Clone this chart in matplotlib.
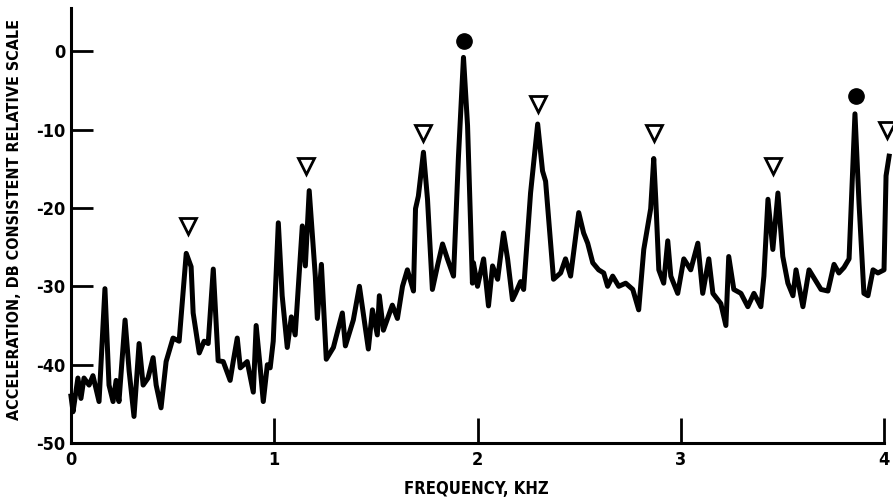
import numpy as np
import matplotlib.pyplot as plt

# spectrum trace (frequency in kHz, level in dB)
freq_khz = [0.000, 0.010, 0.034, 0.049, 0.064, 0.089, 0.108, 0.138, 0.167, 0.187,
            0.207, 0.222, 0.236, 0.266, 0.286, 0.310, 0.335, 0.355, 0.379, 0.404,
            0.419, 0.443, 0.468, 0.502, 0.532, 0.567, 0.591, 0.601, 0.631, 0.655,
            0.675, 0.700, 0.724, 0.749, 0.783, 0.798, 0.818, 0.833, 0.867, 0.897,
            0.911, 0.931, 0.946, 0.966, 0.980, 0.995, 1.020, 1.039, 1.064, 1.084,
            1.103, 1.138, 1.153, 1.172, 1.202, 1.212, 1.232, 1.256, 1.291, 1.335,
            1.350, 1.389, 1.419, 1.463, 1.483, 1.507, 1.517, 1.537, 1.581, 1.606,
            1.631, 1.655, 1.685, 1.695, 1.709, 1.734, 1.754, 1.778, 1.803, 1.828,
            1.852, 1.882, 1.906, 1.931, 1.951, 1.975, 1.980, 2.000, 2.030, 2.054,
            2.074, 2.099, 2.128, 2.148, 2.172, 2.187, 2.212, 2.227, 2.261, 2.296,
            2.320, 2.335, 2.374, 2.409, 2.433, 2.458, 2.498, 2.522, 2.542, 2.567,
            2.596, 2.621, 2.640, 2.665, 2.695, 2.729, 2.764, 2.793, 2.818, 2.852,
            2.867, 2.877, 2.892, 2.916, 2.936, 2.951, 2.985, 3.015, 3.049, 3.084,
            3.108, 3.138, 3.158, 3.197, 3.222, 3.236, 3.261, 3.296, 3.330, 3.360,
            3.394, 3.409, 3.429, 3.453, 3.478, 3.502, 3.527, 3.552, 3.567, 3.601,
            3.631, 3.690, 3.724, 3.754, 3.778, 3.803, 3.828, 3.857, 3.877, 3.901,
            3.921, 3.946, 3.970, 4.000, 4.010, 4.025]
level_db = [-44.0, -46.0, -41.7, -44.3, -41.7, -42.6, -41.4, -44.7, -30.3, -42.6,
            -44.7, -42.0, -44.7, -34.3, -40.8, -46.6, -37.3, -42.6, -41.7, -39.1,
            -42.6, -45.5, -39.6, -36.6, -37.0, -25.8, -27.5, -33.4, -38.5, -37.0,
            -37.3, -27.8, -39.5, -39.6, -42.0, -39.6, -36.6, -40.4, -39.6, -43.5,
            -35.0, -40.4, -44.7, -40.0, -40.4, -37.0, -21.9, -31.2, -37.8, -33.9,
            -36.2, -22.3, -27.4, -17.8, -28.7, -34.1, -27.2, -39.3, -37.8, -33.4,
            -37.6, -34.3, -30.0, -38.0, -33.0, -36.2, -31.2, -35.6, -32.4, -34.1,
            -30.0, -27.9, -30.6, -20.1, -18.5, -12.9, -18.9, -30.4, -27.4, -24.6,
            -26.5, -28.7, -13.6, -0.8, -9.5, -29.6, -27.0, -30.0, -26.5, -32.5,
            -27.4, -29.1, -23.2, -26.5, -31.7, -30.9, -29.4, -30.4, -18.1, -9.3,
            -15.3, -16.6, -29.1, -28.3, -26.5, -28.7, -20.6, -23.2, -24.5, -27.0,
            -27.9, -28.3, -30.0, -28.7, -30.0, -29.6, -30.4, -33.0, -25.3, -20.1,
            -13.7, -18.9, -27.9, -29.6, -24.2, -28.7, -30.9, -26.5, -27.9, -24.5,
            -30.9, -26.5, -30.9, -32.2, -35.0, -26.2, -30.4, -30.9, -32.6, -30.9,
            -32.6, -28.7, -18.9, -25.3, -18.1, -26.2, -29.6, -31.2, -27.9, -32.6,
            -27.9, -30.4, -30.6, -27.2, -28.3, -27.6, -26.5, -8.0, -19.4, -30.9,
            -31.2, -27.9, -28.3, -27.9, -15.9, -13.4]

# harmonic markers
tri_khz = [0.576, 1.158, 1.734, 2.296, 2.867, 3.453, 4.015]
tri_db = [-22.3, -14.7, -10.4, -6.7, -10.5, -14.6, -10.0]
dot_khz = [1.936, 3.862]
dot_db = [1.3, -5.7]

plt.rcParams['font.family'] = ['DejaVu Sans']
plt.rcParams['font.stretch'] = 'condensed'
plt.rcParams['font.weight'] = 'bold'
plt.rcParams['axes.unicode_minus'] = False

fig = plt.figure(figsize=(8.93, 4.99), dpi=100)
ax = fig.add_axes([0.0795, 0.112, 0.915, 0.872])

ax.plot(freq_khz, level_db, color='black', lw=3.6, solid_joinstyle='round',
        clip_on=False)
ax.plot(tri_khz, tri_db, linestyle='none', marker='v', markersize=11,
        markerfacecolor='white', markeredgecolor='black', markeredgewidth=2,
        clip_on=False)
ax.plot(dot_khz, dot_db, linestyle='none', marker='o', markersize=11,
        color='black', clip_on=False)

ax.set_xlim(0, 4.02)
ax.set_ylim(-50, 5.5)
ax.spines['top'].set_visible(False)
ax.spines['right'].set_visible(False)
ax.spines['left'].set_linewidth(2.2)
ax.spines['bottom'].set_linewidth(2.2)
ax.spines['bottom'].set_bounds(0, 4)

ax.set_xticks([0, 1, 2, 3, 4])
ax.set_xticklabels(['0', '1', '2', '3', '4'])
ax.set_yticks([0, -10, -20, -30, -40, -50])
ax.set_yticklabels(['0', '-10', '-20', '-30', '-40', '-50'])
ax.tick_params(axis='both', direction='in', width=2, labelsize=13)
ax.tick_params(axis='y', length=16, pad=4)
ax.tick_params(axis='x', length=18, pad=6)

ax.set_xlabel('FREQUENCY, KHZ', fontsize=12, fontweight='bold')
ax.xaxis.set_label_coords(0.496, -0.085)
ax.set_ylabel('ACCELERATION, DB CONSISTENT RELATIVE SCALE', fontsize=11.5,
              fontweight='bold')
ax.yaxis.set_label_coords(-0.06, 0.513)

fig.savefig('out.png', dpi=100)
